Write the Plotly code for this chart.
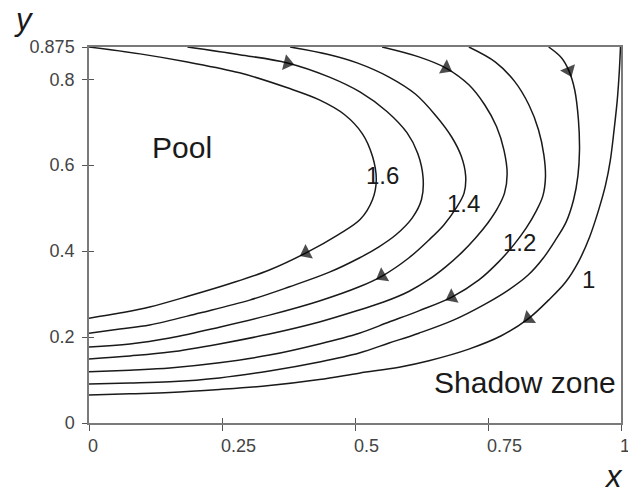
import numpy as np
import plotly.graph_objects as go

# ---- data (data units) ----
levels = ["1.6", "1.5", "1.4", "1.3", "1.2", "1.1", "1"]

c16_x = [0, 0.096, 0.185, 0.283, 0.373, 0.433, 0.480, 0.514, 0.533, 0.540, 0.533, 0.510, 0.468, 0.408, 0.339, 0.264, 0.189, 0.114, 0.058, 0]
c16_y = [0.875, 0.859, 0.840, 0.815, 0.780, 0.752, 0.718, 0.673, 0.620, 0.566, 0.520, 0.474, 0.438, 0.396, 0.356, 0.324, 0.296, 0.270, 0.256, 0.244]

c15_x = [0.185, 0.283, 0.373, 0.452, 0.510, 0.560, 0.598, 0.618, 0.628, 0.625, 0.608, 0.577, 0.545, 0.508, 0.452, 0.377, 0.302, 0.208, 0.114, 0.058, 0]
c15_y = [0.875, 0.857, 0.838, 0.805, 0.770, 0.725, 0.675, 0.627, 0.570, 0.520, 0.478, 0.438, 0.410, 0.384, 0.351, 0.317, 0.286, 0.256, 0.228, 0.219, 0.209]

c14_x = [0.378, 0.452, 0.504, 0.564, 0.614, 0.652, 0.682, 0.700, 0.708, 0.705, 0.690, 0.667, 0.639, 0.601, 0.551, 0.508, 0.433, 0.339, 0.245, 0.152, 0.077, 0]
c14_y = [0.875, 0.857, 0.838, 0.805, 0.765, 0.715, 0.665, 0.620, 0.575, 0.535, 0.500, 0.461, 0.426, 0.384, 0.342, 0.317, 0.284, 0.251, 0.223, 0.198, 0.184, 0.177]

c13_x = [0.551, 0.620, 0.671, 0.714, 0.744, 0.766, 0.780, 0.786, 0.781, 0.768, 0.750, 0.727, 0.701, 0.671, 0.639, 0.601, 0.555, 0.508, 0.433, 0.339, 0.245, 0.152, 0.077, 0]
c13_y = [0.875, 0.852, 0.826, 0.787, 0.740, 0.690, 0.635, 0.580, 0.535, 0.500, 0.466, 0.431, 0.397, 0.364, 0.334, 0.306, 0.282, 0.263, 0.235, 0.207, 0.184, 0.165, 0.156, 0.149]

c12_x = [0.714, 0.764, 0.800, 0.827, 0.845, 0.855, 0.858, 0.853, 0.840, 0.822, 0.798, 0.770, 0.733, 0.682, 0.620, 0.564, 0.508, 0.433, 0.339, 0.245, 0.152, 0.077, 0]
c12_y = [0.875, 0.840, 0.795, 0.740, 0.682, 0.624, 0.572, 0.528, 0.492, 0.454, 0.414, 0.375, 0.333, 0.293, 0.261, 0.235, 0.209, 0.184, 0.158, 0.140, 0.128, 0.123, 0.119]

c11_x = [0.864, 0.888, 0.902, 0.913, 0.920, 0.922, 0.919, 0.911, 0.897, 0.877, 0.854, 0.826, 0.789, 0.742, 0.686, 0.620, 0.564, 0.508, 0.433, 0.339, 0.245, 0.152, 0.077, 0]
c11_y = [0.875, 0.850, 0.820, 0.775, 0.705, 0.635, 0.575, 0.520, 0.468, 0.426, 0.384, 0.345, 0.310, 0.275, 0.240, 0.209, 0.186, 0.163, 0.142, 0.121, 0.105, 0.096, 0.093, 0.091]

c10_x = [0.999, 0.997, 0.993, 0.987, 0.980, 0.971, 0.958, 0.941, 0.920, 0.896, 0.864, 0.826, 0.775, 0.714, 0.639, 0.583, 0.508, 0.433, 0.339, 0.245, 0.152, 0.077, 0]
c10_y = [0.875, 0.822, 0.752, 0.682, 0.612, 0.554, 0.496, 0.433, 0.375, 0.328, 0.286, 0.243, 0.203, 0.172, 0.145, 0.130, 0.116, 0.101, 0.087, 0.078, 0.071, 0.068, 0.065]

# arrowheads (one per streamline, same order as levels)
arrow_x = [0.408, 0.373, 0.551, 0.671, 0.682, 0.902, 0.826]
arrow_y = [0.396, 0.838, 0.342, 0.826, 0.293, 0.820, 0.243]

# contour labels
label_text = ["1.6", "1.4", "1.2", "1"]
label_x = [0.551, 0.703, 0.809, 0.939]
label_y = [0.575, 0.510, 0.419, 0.335]

# axis ticks
x_ticks = [0, 0.25, 0.5, 0.75, 1]
x_tick_text = ["0", "0.25", "0.5", "0.75", "1"]
y_ticks = [0, 0.2, 0.4, 0.6, 0.8, 0.875]
y_tick_text = ["0", "0.2", "0.4", "0.6", "0.8", "0.875"]

curves_x = [c16_x, c15_x, c14_x, c13_x, c12_x, c11_x, c10_x]
curves_y = [c16_y, c15_y, c14_y, c13_y, c12_y, c11_y, c10_y]

FONT = "Arial, Liberation Sans, sans-serif"
LINE = "#1a1a1a"

fig = go.Figure()
for cx, cy, lev in zip(curves_x, curves_y, levels):
    fig.add_trace(go.Scatter(x=cx, y=cy, mode="lines", name=lev,
                             line=dict(color=LINE, width=1.5, shape="spline", smoothing=1.0),
                             hoverinfo="skip", showlegend=False))

# arrowheads oriented along the flow
for cx, cy, ax, ay in zip(curves_x, curves_y, arrow_x, arrow_y):
    px_ = np.array(cx); py_ = np.array(cy)
    i = int(np.argmin((px_ - ax) ** 2 + (py_ - ay) ** 2))
    i0 = max(i - 1, 0); i1 = min(i + 1, len(px_) - 1)
    dx = px_[i1] - px_[i0]; dy = py_[i1] - py_[i0]
    prev = (ax - 0.15 * dx, ay - 0.15 * dy)
    fig.add_trace(go.Scatter(x=[prev[0], ax], y=[prev[1], ay], mode="markers",
                             marker=dict(symbol="triangle-up", size=[0, 14], color="#000",
                                         angleref="previous", angle=0, line=dict(width=0)),
                             hoverinfo="skip", showlegend=False))

ann = []
for t, x, y in zip(label_text, label_x, label_y):
    ann.append(dict(x=x, y=y, xref="x", yref="y", text=t, showarrow=False,
                    font=dict(family=FONT, size=24, color="#1a1a1a")))
ann.append(dict(x=0.175, y=0.640, xref="x", yref="y", text="Pool", showarrow=False,
                font=dict(family=FONT, size=30, color="#1a1a1a")))
ann.append(dict(x=0.819, y=0.095, xref="x", yref="y", text="Shadow zone", showarrow=False,
                font=dict(family=FONT, size=30, color="#1a1a1a")))
# x tick labels (left aligned at their ticks)
for v, t in zip(x_ticks, x_tick_text):
    ann.append(dict(x=v, y=0, xref="x", yref="paper", text=t, showarrow=False,
                    xanchor="left", yanchor="top", xshift=-3, yshift=-11,
                    font=dict(family=FONT, size=18, color="#444")))
# axis names
ann.append(dict(x=-0.122, y=1.125, xref="paper", yref="paper", text="<i>y</i>", showarrow=False,
                xanchor="center", yanchor="top",
                font=dict(family=FONT, size=31, color="#1a1a1a")))
ann.append(dict(x=0.985, y=-0.194, xref="paper", yref="paper", text="<i>x</i>", showarrow=False,
                xanchor="center", yanchor="bottom",
                font=dict(family=FONT, size=31, color="#1a1a1a")))

fig.update_layout(
    width=628, height=496,
    margin=dict(l=89, r=5, t=47, b=73),
    paper_bgcolor="white", plot_bgcolor="white",
    annotations=ann,
    xaxis=dict(range=[0, 1], showgrid=False, zeroline=False, showline=True, mirror=True,
               linecolor="#7a7a7a", linewidth=1.5, ticks="outside", ticklen=6,
               tickcolor="#555", tickwidth=1.2, tickvals=x_ticks, showticklabels=False),
    yaxis=dict(range=[0, 0.875], showgrid=False, zeroline=False, showline=True, mirror=True,
               linecolor="#7a7a7a", linewidth=1.5, ticks="outside", ticklen=5,
               tickcolor="#555", tickwidth=1.2, tickvals=y_ticks, ticktext=y_tick_text,
               tickfont=dict(family=FONT, size=18, color="#444"), ticklabelstandoff=4),
    xaxis2=dict(range=[0, 1], overlaying="x", showgrid=False, zeroline=False, showline=False,
                ticks="inside", ticklen=5, tickcolor="#555", tickwidth=1.2,
                tickvals=x_ticks, showticklabels=False, side="bottom"),
    yaxis2=dict(range=[0, 0.875], overlaying="y", showgrid=False, zeroline=False, showline=False,
                ticks="inside", ticklen=5, tickcolor="#555", tickwidth=1.2,
                tickvals=[0, 0.2, 0.4, 0.6, 0.8], showticklabels=False, side="left"),
)
# dummy trace to activate the overlay axes
fig.add_trace(go.Scatter(x=[0], y=[0], xaxis="x2", yaxis="y2", mode="markers",
                         marker=dict(size=0, opacity=0), hoverinfo="skip", showlegend=False))

fig.write_html("out.html", config={"displayModeBar": False},
               post_script="document.body.style.margin='0px';")
